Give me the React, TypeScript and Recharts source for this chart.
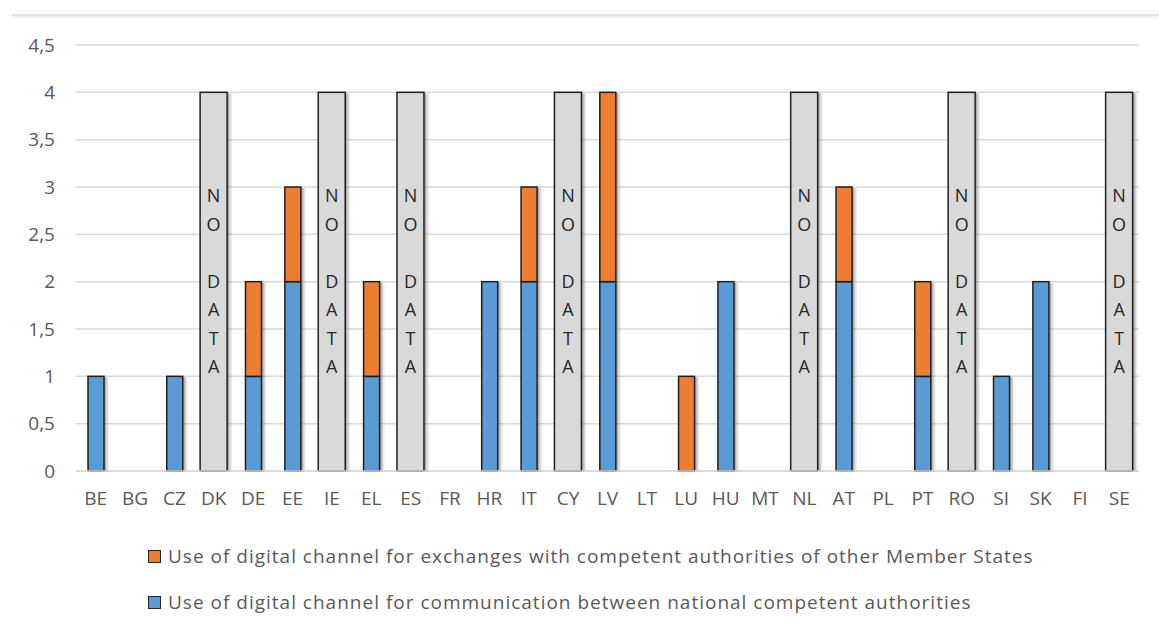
import React from 'react';
import { BarChart, Bar, XAxis, YAxis, CartesianGrid, Legend, LabelList } from 'recharts';

const countries = ['BE', 'BG', 'CZ', 'DK', 'DE', 'EE', 'IE', 'EL', 'ES', 'FR', 'HR', 'IT', 'CY', 'LV', 'LT', 'LU', 'HU', 'MT', 'NL', 'AT', 'PL', 'PT', 'RO', 'SI', 'SK', 'FI', 'SE'];

// communication between national competent authorities
const nationalValues = [1, null, 1, null, 1, 2, null, 1, null, null, 2, 2, null, 2, null, null, 2, null, null, 2, null, 1, null, 1, 2, null, null];

// exchanges with competent authorities of other Member States
const otherMsValues = [null, null, null, null, 1, 1, null, 1, null, null, null, 1, null, 2, null, 1, null, null, null, 1, null, 1, null, null, null, null, null];

const noDataCountries = ['DK', 'IE', 'ES', 'CY', 'NL', 'RO', 'SE'];
const noDataHeight = 4;

const yTicks = [0, 0.5, 1, 1.5, 2, 2.5, 3, 3.5, 4, 4.5];

const legendItems = [
  { key: 'otherMs', label: 'Use of digital channel for exchanges with competent authorities of other Member States', color: '#ed7d31' },
  { key: 'national', label: 'Use of digital channel for communication between national competent authorities', color: '#5b9bd5' },
];

const data = countries.map((c, i) => ({
  country: c,
  national: nationalValues[i],
  otherMs: otherMsValues[i],
  noData: noDataCountries.includes(c) ? noDataHeight : null,
}));

const FONT = '"Open Sans", "Noto Sans", sans-serif';
const TEXT = '#595959';
const SHADOW_LAYERS = [
  { dx: 2, opacity: 0.3 },
  { dx: 3.5, opacity: 0.18 },
  { dx: 5, opacity: 0.1 },
];

// bar with a soft Excel-like shadow on its right side
function renderBar(props: any) {
  const { x, y, width, height, fill } = props;
  if (!height || height <= 0) return <g />;
  return (
    <g>
      {SHADOW_LAYERS.map((s, i) => (
        <rect key={i} x={x + s.dx} y={y + 1} width={width} height={height} fill="#5a5a5a" fillOpacity={s.opacity} />
      ))}
      <rect x={x} y={y} width={width} height={height} fill={fill} stroke="#1f1f1f" strokeWidth={1.5} />
    </g>
  );
}

const XTick = ({ x, y, payload }: any) => (
  <text x={x} y={y} dy="0.75em" textAnchor="middle" fill={TEXT} fontSize={19} fontFamily={FONT}>
    {payload.value}
  </text>
);

const YTick = ({ x, y, payload }: any) => (
  <text x={x} y={y} dy="0.35em" textAnchor="end" fill={TEXT} fontSize={19} fontFamily={FONT}>
    {String(payload.value).replace('.', ',')}
  </text>
);

const NoDataLabel = (props: any) => {
  const { x, y, width, height, value } = props;
  if (value == null) return null;
  const cx = x + width / 2;
  const cy = y + height / 2;
  const letters = ['N', 'O', '', 'D', 'A', 'T', 'A'];
  const step = 28.5;
  const start = cy - (step * (letters.length - 1)) / 2;
  return (
    <g>
      {letters.map((l, i) =>
        l ? (
          <text key={i} x={cx} y={start + i * step} dy="0.35em" textAnchor="middle" fontSize={18} fill="#262626" fontFamily={FONT}>
            {l}
          </text>
        ) : null
      )}
    </g>
  );
};

const renderLegend = () => (
  <div style={{ fontFamily: FONT, fontSize: 19, color: TEXT, letterSpacing: 1 }}>
    {legendItems.map((item) => (
      <div key={item.key} style={{ display: 'flex', alignItems: 'center', height: 24, marginBottom: 22 }}>
        <span style={{ display: 'inline-block', width: 11, height: 11, background: item.color, border: '1.5px solid #262626', marginRight: 7, flex: 'none' }} />
        <span style={{ whiteSpace: 'nowrap' }}>{item.label}</span>
      </div>
    ))}
  </div>
);

export default function App() {
  return (
    <div style={{ position: 'absolute', left: 0, top: 0, width: 1159, height: 630, background: '#fff', fontFamily: FONT }}>
      <div style={{ position: 'absolute', top: 14, left: 12, right: 0, borderTop: '2px solid #e4e4e4', boxShadow: '0 1px 3px rgba(0,0,0,0.12)' }} />
      <BarChart width={1159} height={630} data={data} margin={{ top: 45, right: 20, left: 16, bottom: 119 }}>
        <CartesianGrid vertical={false} stroke="#d9d9d9" strokeWidth={1.5} />
        <XAxis
          dataKey="country"
          height={40}
          tickLine={false}
          tickSize={0}
          tickMargin={20}
          axisLine={{ stroke: '#d9d9d9', strokeWidth: 1.5 }}
          tick={XTick}
          interval={0}
        />
        <XAxis xAxisId="nd" dataKey="country" hide />
        <YAxis
          width={60}
          domain={[0, 4.5]}
          ticks={yTicks}
          axisLine={false}
          tickLine={false}
          tickSize={0}
          tickMargin={21}
          tick={YTick}
        />
        <Bar xAxisId="nd" dataKey="noData" barSize={27} fill="#d9d9d9" shape={renderBar} isAnimationActive={false}>
          <LabelList dataKey="noData" content={NoDataLabel} />
        </Bar>
        <Bar dataKey="national" stackId="a" barSize={16} fill="#5b9bd5" shape={renderBar} isAnimationActive={false} />
        <Bar dataKey="otherMs" stackId="a" barSize={16} fill="#ed7d31" shape={renderBar} isAnimationActive={false} />
        <Legend
          layout="horizontal"
          verticalAlign="middle"
          align="center"
          content={renderLegend}
          wrapperStyle={{ top: 544, left: 148, width: 1000 }}
        />
      </BarChart>
    </div>
  );
}
